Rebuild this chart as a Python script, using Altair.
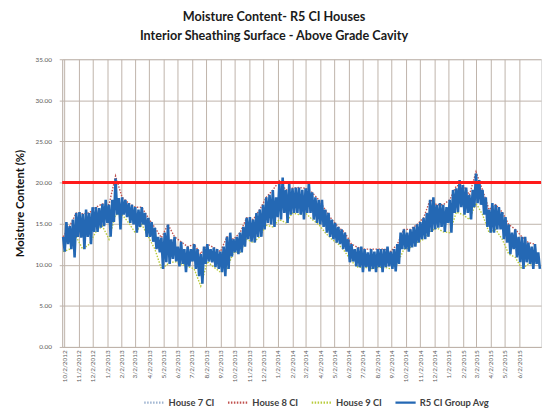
import altair as alt
import pandas as pd

# ---------------- data ----------------
series_names = ["House 7 CI", "House 8 CI", "House 9 CI", "R5 CI Group Avg"]
series_colors = ["#9DB3D0", "#C0504D", "#B8CB3A", "#2468B4"]

# Group average: weekly upper / lower swings of the dense hourly band
avg_hi = [13.4,15.2,14.7,15.5,16.3,16.4,16.2,16.7,16.3,17.0,
          17.0,16.9,17.4,17.9,17.3,17.9,20.5,18.1,18.2,17.9,
          17.5,17.3,17.0,16.7,17.0,16.3,15.7,15.2,14.5,13.4,
          13.3,13.9,14.9,13.1,13.4,12.2,12.8,11.9,12.2,11.9,
          12.5,11.9,11.3,12.2,12.5,11.9,12.1,11.9,11.6,12.2,
          13.4,13.9,13.1,13.4,13.9,14.6,15.7,15.8,15.5,16.3,
          16.7,17.3,18.2,18.5,19.1,18.2,19.9,20.6,19.1,19.9,
          19.3,19.4,19.4,19.1,19.3,20.0,18.8,18.2,17.9,17.9,
          16.7,16.3,15.5,15.1,14.6,14.3,13.9,13.1,12.5,11.9,
          12.1,12.2,11.9,11.5,11.9,11.6,11.9,11.9,11.9,12.2,
          11.6,11.9,12.5,13.9,14.3,13.9,14.3,14.6,14.9,15.2,
          15.7,16.3,17.9,18.2,17.3,17.5,17.3,17.0,17.9,19.1,
          19.3,20.3,19.7,19.4,18.5,19.1,21.1,20.3,19.1,18.2,
          16.7,17.5,17.3,17.0,16.4,15.8,14.9,13.9,14.3,13.4,
          13.4,13.4,12.7,12.2,12.5,11.5]
avg_lo = [11.6,12.5,11.9,10.9,13.4,13.3,11.9,13.4,12.5,14.0,
          14.0,14.5,14.7,15.1,13.4,15.2,16.1,14.3,16.1,15.8,
          15.1,14.9,13.9,14.6,14.9,13.4,13.4,12.8,11.9,11.5,
          9.5,10.3,10.1,10.7,10.4,9.8,10.1,9.1,9.8,10.4,
          9.5,8.6,7.7,10.1,10.4,10.3,9.7,9.5,9.1,8.6,
          9.5,11.0,11.5,11.3,11.5,12.2,13.1,12.8,12.7,13.4,
          13.4,14.3,15.1,14.9,14.6,15.8,15.5,16.3,15.1,16.1,
          16.3,16.3,16.1,15.5,16.3,16.3,15.5,15.1,14.9,14.6,
          13.9,13.4,13.1,12.7,12.5,11.9,11.6,10.3,10.4,9.8,
          9.7,9.1,9.7,9.2,9.5,9.1,9.7,9.1,9.7,9.8,
          9.5,9.2,10.1,11.9,11.9,11.6,12.1,12.2,12.7,13.1,
          13.1,13.4,14.0,14.3,14.5,14.6,14.0,15.1,13.9,16.3,
          16.4,17.0,16.1,16.3,15.5,17.0,17.5,17.3,16.1,14.6,
          13.9,13.9,14.3,14.3,13.1,12.7,11.3,11.9,10.9,10.3,
          9.5,10.3,10.1,9.5,10.1,9.5]

# Individual houses, every two weeks
house7 = [12.5,13.3,14.8,14.0,14.4,15.5,16.0,15.3,18.3,17.1,
          16.3,15.4,16.0,14.5,13.2,11.4,12.5,11.9,11.4,11.0,
          11.0,9.5,11.4,10.9,10.3,11.4,12.3,12.7,14.4,14.1,
          15.0,16.6,16.8,17.7,17.1,17.8,17.7,17.8,17.1,16.4,
          15.3,14.3,13.5,12.7,11.4,10.9,10.8,10.7,10.8,10.8,
          10.5,11.3,13.1,13.2,13.8,14.4,16.0,15.9,15.6,15.9,
          17.8,17.9,17.0,19.3,17.6,15.3,15.8,14.7,13.1,12.6,
          11.4,11.4,11.3]
house8 = [13.4,14.7,16.3,16.2,16.3,17.0,17.4,17.3,20.8,18.2,
          17.5,17.0,17.0,15.7,14.5,13.3,14.9,13.4,12.8,12.2,
          12.5,11.3,12.5,12.1,11.6,13.4,13.1,13.9,15.7,15.5,
          16.7,18.2,19.1,20.2,19.1,19.3,19.4,19.3,18.8,17.9,
          16.7,15.5,14.6,13.9,12.5,12.1,11.9,11.9,11.9,11.9,
          11.6,12.5,14.3,14.3,14.9,15.7,17.9,17.3,17.3,17.9,
          19.6,19.7,18.5,21.3,19.1,16.7,17.3,16.4,14.9,14.3,
          13.4,12.7,12.5]
house9 = [11.6,11.9,13.4,11.9,12.5,14.0,14.7,13.1,16.1,16.1,
          15.1,13.9,14.9,13.4,11.9,9.5,10.1,10.4,10.1,9.8,
          9.5,7.4,10.4,9.7,9.1,9.5,11.5,11.5,13.1,12.7,
          13.4,14.8,14.6,15.5,15.1,16.3,16.1,16.3,15.5,14.9,
          13.9,13.1,12.5,11.6,10.4,9.7,9.7,9.5,9.7,9.7,
          9.5,10.1,11.9,12.1,12.7,13.1,14.0,14.5,14.0,13.9,
          16.4,16.1,15.5,17.5,16.1,13.9,14.3,13.1,11.3,10.9,
          9.5,10.1,10.1]

threshold = [20]
y_ticks = [0, 5, 10, 15, 20, 25, 30, 35]
tick_months = [(2012, m) for m in (10, 11, 12)] + \
              [(2013, m) for m in range(1, 13)] + \
              [(2014, m) for m in range(1, 13)] + \
              [(2015, m) for m in range(1, 7)]

title_lines = ["Moisture Content- R5 CI Houses",
               "Interior Sheathing Surface - Above Grade Cavity"]
y_title = "Moisture Content (%)"

# ---------------- tables ----------------
start = pd.Timestamp("2012-09-30")
hi_dates = pd.date_range(start, periods=len(avg_hi), freq="7D")
lo_dates = hi_dates + pd.Timedelta(hours=84)
avg_dates, avg_vals = [], []
for d1, v1, d2, v2 in zip(hi_dates, avg_hi, lo_dates, avg_lo):
    avg_dates += [d1, d2]
    avg_vals += [v1, v2]
avg_df = pd.DataFrame({"date": avg_dates, "value": avg_vals,
                       "series": "R5 CI Group Avg"})

h_dates = pd.date_range(start, periods=len(house7), freq="14D")
house_df = pd.concat([
    pd.DataFrame({"date": h_dates, "value": vals, "series": name})
    for name, vals in zip(series_names[:3], [house7, house8, house9])
])
thr_df = pd.DataFrame({"y": threshold})

# ---------------- chart ----------------
grid_col = "#BEB3AA"
font = "Lato"

color_scale = alt.Scale(domain=series_names, range=series_colors)
dash_scale = alt.Scale(domain=series_names,
                       range=[[1.5, 1.5], [1.5, 1.5], [1.5, 1.5], [1, 0]])
legend = alt.Legend(title=None, orient="none", legendX=82, legendY=337,
                    direction="horizontal", columns=4, symbolType="stroke",
                    symbolSize=420, symbolStrokeWidth=2.2, labelFont=font,
                    labelFontSize=9.5, labelFontWeight="bold",
                    labelColor="#404040", columnPadding=8, labelOffset=3,
                    padding=0)

x_enc = alt.X("date:T",
              scale=alt.Scale(domain=[alt.DateTime(year=2012, month=9, date=28),
                                      alt.DateTime(year=2015, month=7, date=18)]),
              axis=alt.Axis(values=[alt.DateTime(year=y, month=m, date=2)
                                    for y, m in tick_months],
                            format="%-m/%-d/%Y", labelAngle=-90,
                            labelFontSize=6.5, labelFont=font,
                            labelColor="#595959", labelOverlap=False,
                            labelPadding=3, tickSize=0, grid=True,
                            gridColor=grid_col, domainColor=grid_col,
                            title=None))
y_enc = alt.Y("value:Q", scale=alt.Scale(domain=[0, 35]),
              axis=alt.Axis(values=y_ticks, format=".2f", labelFontSize=6.5,
                            labelFont=font, labelColor="#595959",
                            labelPadding=8, tickSize=3, tickColor=grid_col,
                            gridColor=grid_col, domainColor=grid_col,
                            title=y_title, titleFont=font, titleFontSize=11.5,
                            titleFontWeight="bold", titleColor="#111111",
                            titlePadding=10))

houses = alt.Chart(house_df).mark_line(strokeWidth=1.4).encode(
    x=x_enc, y=y_enc,
    color=alt.Color("series:N", scale=color_scale, legend=legend),
    strokeDash=alt.StrokeDash("series:N", scale=dash_scale, legend=legend),
)
avg = alt.Chart(avg_df).mark_line(strokeWidth=2.6).encode(
    x=x_enc, y=y_enc,
    color=alt.Color("series:N", scale=color_scale, legend=legend),
    strokeDash=alt.StrokeDash("series:N", scale=dash_scale, legend=legend),
)
rule = alt.Chart(thr_df).mark_rule(color="#FF1A1A", strokeWidth=3).encode(
    y=alt.Y("y:Q", scale=alt.Scale(domain=[0, 35]))
)

chart = alt.layer(houses, avg, rule).properties(
    width=486, height=292,
    title=alt.TitleParams(title_lines, font=font, fontSize=12.8,
                          fontWeight="bold", color="#1a1a1a", anchor="middle",
                          dx=-28, offset=14, lineHeight=19),
    autosize=alt.AutoSizeParams(type="none"),
    padding={"left": 55, "top": 49, "right": 3, "bottom": 62},
).configure_view(stroke=grid_col).configure(background="white")

chart.save("out.html", embed_options={"renderer": "svg", "actions": False})
